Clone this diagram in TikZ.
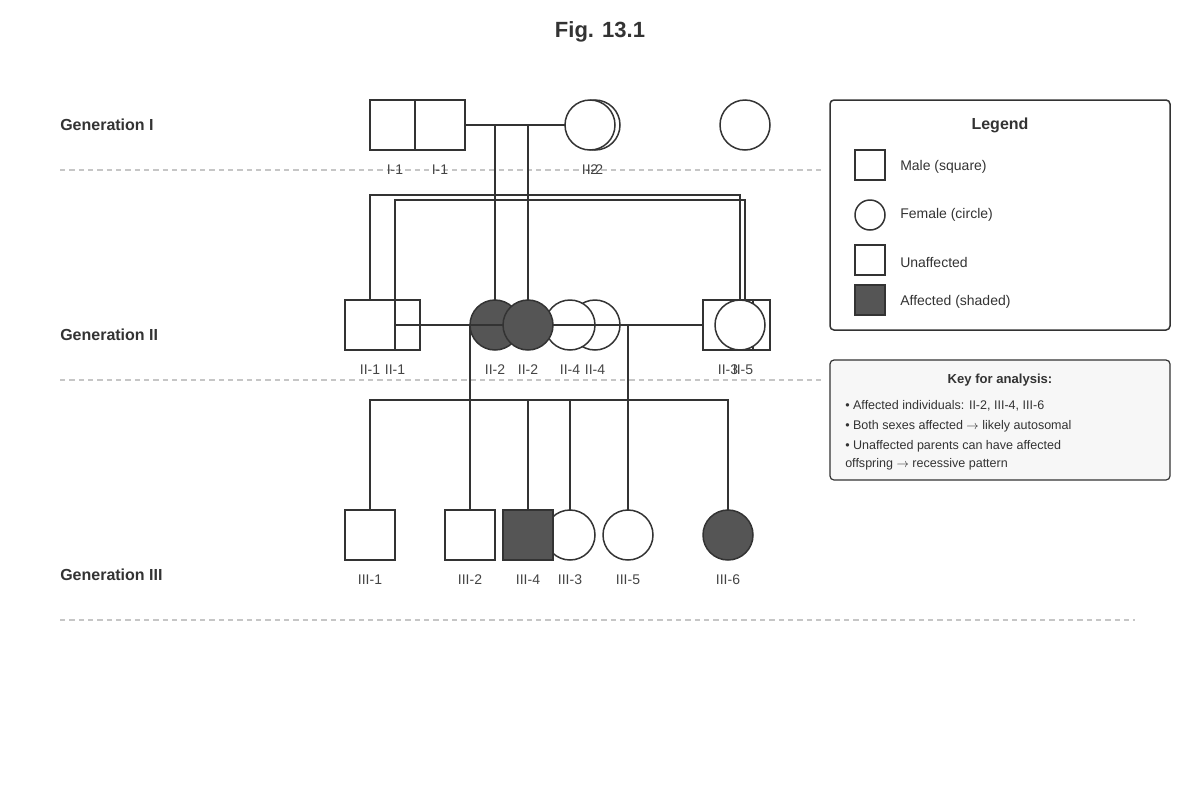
\documentclass[tikz,border=0pt]{standalone}
\usepackage{fontspec}
\setmainfont{Liberation Sans}
\begin{document}
\begin{tikzpicture}[x=0.75pt,y=-0.75pt,
  ln/.style={draw=ink,line width=1.5pt*0.75},
  sq/.style={ln,fill=white},
  aff/.style={ln,fill=affc},
  lab/.style={font=\fontsize{10.5}{12}\selectfont,text=labc},
  gen/.style={font=\bfseries\fontsize{12}{14}\selectfont,text=ink,anchor=west,inner sep=0pt},
  gline/.style={draw=gray!45,line width=0.9pt,dash pattern=on 4pt off 3pt},
  keyt/.style={font=\fontsize{9.4}{11}\selectfont,text=ink,anchor=west,inner sep=0pt}]
\definecolor{ink}{HTML}{333333}
\definecolor{affc}{HTML}{555555}
\definecolor{labc}{HTML}{444444}
\useasboundingbox (0,0) rectangle (1200,800);
\node[font=\bfseries\fontsize{16.5}{19}\selectfont,text=ink] (title) at (600,32) {Fig. 13.1};
\node[gen] (g1) at (60,125) {Generation I};
\node[gen] (g2) at (60,335) {Generation II};
\node[gen] (g3) at (60,575) {Generation III};
\draw[gline] (60,170) -- (825,170);
\draw[gline] (60,380) -- (825,380);
\draw[gline] (60,620) -- (1135,620);
% connectors
\draw[ln] (465,125) -- (565,125);
\draw[ln] (495,125) -- (495,300);
\draw[ln] (528,125) -- (528,300);
\draw[ln] (370,300) -- (370,195) -- (740,195) -- (740,300);
\draw[ln] (395,300) -- (395,200) -- (745,200) -- (745,300);
\draw[ln] (470,325) -- (470,510);
\draw[ln] (628,325) -- (628,510);
\draw[ln] (370,510) -- (370,400) -- (728,400) -- (728,510);
\draw[ln] (528,400) -- (528,510);
\draw[ln] (570,400) -- (570,510);
% Gen I
\draw[sq] (370,100) rectangle (420,150);
\draw[sq] (415,100) rectangle (465,150);
\draw[sq] (595,125) circle (25);
\draw[sq] (590,125) circle (25);
\draw[sq] (745,125) circle (25);
\node[lab] (l11a) at (395,170) {I-1};
\node[lab] (l11b) at (440,170) {I-1};
\node[lab] (l12a) at (590,170) {I-2};
\node[lab] (l12b) at (595,170) {I-2};
% Gen II
\draw[sq] (370,300) rectangle (420,350);
\draw[sq] (345,300) rectangle (395,350);
\draw[sq] (595,325) circle (25);
\draw[sq] (570,325) circle (25);
\draw[aff] (495,325) circle (25);
\draw[ln] (395,325) -- (503,325);
\draw[aff] (528,325) circle (25);
\draw[ln] (553,325) -- (703,325);
\draw[sq] (720,300) rectangle (770,350);
\draw[sq] (703,300) rectangle (753,350);
\draw[sq] (740,325) circle (25);
\node[lab] at (370,370) {II-1};
\node[lab] at (395,370) {II-1};
\node[lab] at (495,370) {II-2};
\node[lab] at (528,370) {II-2};
\node[lab] at (570,370) {II-4};
\node[lab] at (595,370) {II-4};
\node[lab] at (728,370) {II-3};
\node[lab] at (743,370) {II-5};
% Gen III
\draw[sq] (345,510) rectangle (395,560);
\draw[sq] (445,510) rectangle (495,560);
\draw[sq] (570,535) circle (25);
\draw[aff] (503,510) rectangle (553,560);
\draw[sq] (628,535) circle (25);
\draw[aff] (728,535) circle (25);
\node[lab] at (370,580) {III-1};
\node[lab] at (470,580) {III-2};
\node[lab] at (528,580) {III-4};
\node[lab] at (570,580) {III-3};
\node[lab] at (628,580) {III-5};
\node[lab] at (728,580) {III-6};
% Legend
\draw[ln,rounded corners=3pt] (830,100) rectangle (1170,330);
\node[font=\bfseries\fontsize{12}{14}\selectfont,text=ink] at (1000,125) {Legend};
\draw[sq] (855,150) rectangle (885,180);
\draw[sq] (870,215) circle (15);
\draw[sq] (855,245) rectangle (885,275);
\draw[aff] (855,285) rectangle (885,315);
\node[keyt,font=\fontsize{10.5}{12}\selectfont] at (900,167) {Male (square)};
\node[keyt,font=\fontsize{10.5}{12}\selectfont] at (900,215) {Female (circle)};
\node[keyt,font=\fontsize{10.5}{12}\selectfont] at (900,262) {Unaffected};
\node[keyt,font=\fontsize{10.5}{12}\selectfont] at (900,302) {Affected (shaded)};
% Key
\draw[draw=ink,line width=0.9pt,fill=gray!6,rounded corners=3pt] (830,360) rectangle (1170,480);
\node[font=\bfseries\fontsize{9.8}{12}\selectfont,text=ink] at (1000,380) {Key for analysis:};
\node[keyt] at (845,406) {• Affected individuals: II-2, III-4, III-6};
\node[keyt] at (845,426) {• Both sexes affected $\rightarrow$ likely autosomal};
\node[keyt] at (845,446) {• Unaffected parents can have affected};
\node[keyt] at (845,464) {offspring $\rightarrow$ recessive pattern};
\end{tikzpicture}
\end{document}
